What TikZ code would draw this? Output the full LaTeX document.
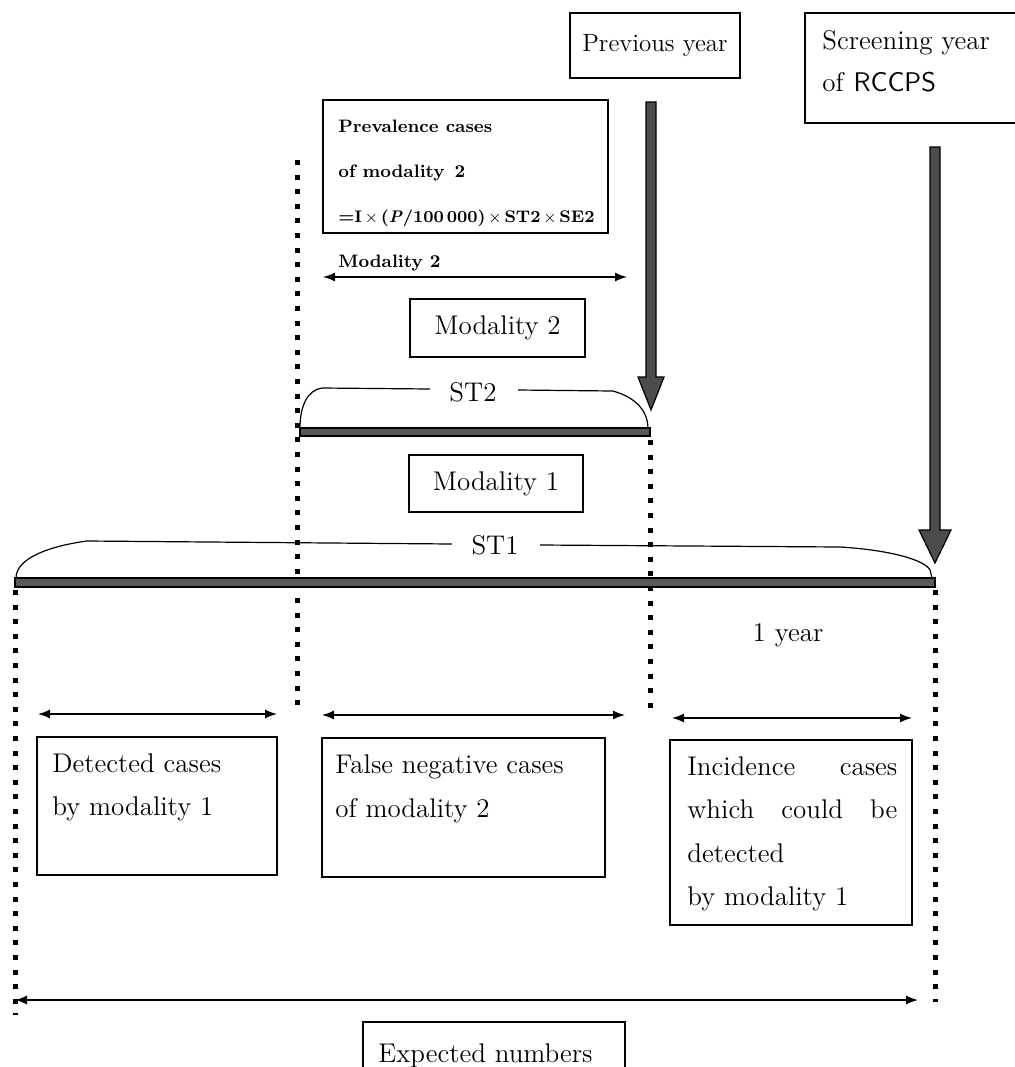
\documentclass[tikz,border=0pt]{standalone}
\usetikzlibrary{arrows.meta,calc}
\begin{document}
\begin{tikzpicture}[x=0.5pt,y=-0.5pt,
  box/.style={draw, line width=0.75pt, rectangle, inner sep=0pt},
  txt/.style={font=\fontsize{13.5}{16}\selectfont, inner sep=0pt},
  smalltxt/.style={font=\fontsize{9}{11}\selectfont\bfseries, inner sep=0pt},
  formtxt/.style={font=\fontsize{8.4}{10}\selectfont\bfseries, inner sep=0pt},
  dotline/.style={line width=2.5pt, dash pattern=on 2.5pt off 4.8pt},
  dblarrow/.style={{Latex[length=6pt,width=4.5pt]}-{Latex[length=6pt,width=4.5pt]}, line width=0.7pt},
  bar/.style={fill=black!65, draw=black, line width=0.7pt},
  bigarrow/.style={fill=black!70, draw=black, line width=0.6pt},
  bracket/.style={line width=0.6pt}]
\useasboundingbox (0,0) rectangle (1014,1067);

% top boxes
\node[box, minimum width=85pt, minimum height=32.5pt, font=\fontsize{12.5}{15}\selectfont] (prev) at (655,45.5) {Previous year};
\node[box, minimum width=107.5pt, minimum height=55pt] (scr) at (912.5,68) {};
\node[txt, anchor=base west] (scr1) at (822,49) {Screening year};
\node[txt, anchor=base west] (scr2) at (822,91) {of \textsf{RCCPS}};

% prevalence box
\node[box, minimum width=142.5pt, minimum height=66.5pt] (prevbox) at (465.5,166.5) {};
\node[smalltxt, anchor=base west] (pv1) at (338,132) {Prevalence cases};
\node[smalltxt, anchor=base west] (pv2) at (338,177) {of modality\, 2};
\node[formtxt, anchor=base west] (pv3) at (338,222) {=I\,$\times$\,(\textit{P}/100\,000)\,$\times$\,ST2\,$\times$\,SE2};

% modality 2 arrow
\node[smalltxt, anchor=base west] (m2lab) at (338,267) {Modality 2};
\coordinate (m2l) at (323,277);
\coordinate (m2r) at (627,277);
\draw[dblarrow] (m2l) -- (m2r);

\node[box, minimum width=87.5pt, minimum height=29pt, txt] (mod2) at (497.5,328) {Modality 2};
\node[box, minimum width=87pt, minimum height=28.5pt, txt] (mod1) at (496,483.5) {Modality 1};

% dotted verticals
\coordinate (d1t) at (297,160); \coordinate (d1b) at (297,714);
\coordinate (d2t) at (650,440); \coordinate (d2b) at (650,714);
\coordinate (d3t) at (15,590);  \coordinate (d3b) at (15,1015);
\coordinate (d4t) at (935,590); \coordinate (d4b) at (935,1002);
\draw[dotline] (d1t) -- (d1b);
\draw[dotline] (d2t) -- (d2b);
\draw[dotline] (d3t) -- (d3b);
\draw[dotline] (d4t) -- (d4b);

% bars
\draw[bar] (300,428) rectangle (650,436);
\draw[bar] (15,578) rectangle (935,587);

% ST2 bracket
\node[txt] (st2) at (473,392) {ST2};
\draw[bracket] (300,428) .. controls (300,405) and (308,390) .. (322,388) -- (430,389);
\draw[bracket] (518,390) -- (613,391) .. controls (638,398) and (648,413) .. (648,428);

% ST1 bracket
\node[txt] (st1) at (495,545) {ST1};
\draw[bracket] (16,578) .. controls (16,558) and (50,546) .. (87,541) -- (452,544);
\draw[bracket] (540,545) -- (840,547) .. controls (890,550) and (925,560) .. (930,570) -- (932,578);

% big arrows
\coordinate (a1s) at (651,102); \coordinate (a1t) at (651,410);
\draw[bigarrow] ($(a1s)+(-5,0)$) -- ($(a1s)+(5,0)$) -- ($(a1t)+(5,-33)$) -- ($(a1t)+(13,-33)$) -- (a1t) -- ($(a1t)+(-13,-33)$) -- ($(a1t)+(-5,-33)$) -- cycle;
\coordinate (a2s) at (935,147); \coordinate (a2t) at (935,563);
\draw[bigarrow] ($(a2s)+(-5,0)$) -- ($(a2s)+(5,0)$) -- ($(a2t)+(5,-33)$) -- ($(a2t)+(16,-33)$) -- (a2t) -- ($(a2t)+(-16,-33)$) -- ($(a2t)+(-5,-33)$) -- cycle;

% 1 year
\node[txt] (oneyear) at (788,635) {1 year};

% small horizontal arrows
\coordinate (h1l) at (38,714); \coordinate (h1r) at (277,714);
\coordinate (h2l) at (322,715); \coordinate (h2r) at (625,715);
\coordinate (h3l) at (672,718); \coordinate (h3r) at (912,718);
\draw[dblarrow] (h1l) -- (h1r);
\draw[dblarrow] (h2l) -- (h2r);
\draw[dblarrow] (h3l) -- (h3r);

% bottom boxes
\node[box, minimum width=120pt, minimum height=69pt] (det) at (157,806) {};
\node[txt, anchor=base west] (det1) at (52,772) {Detected cases};
\node[txt, anchor=base west] (det2) at (52,815) {by modality 1};

\node[box, minimum width=141.5pt, minimum height=69.5pt] (fn) at (463.5,807.5) {};
\node[txt, anchor=base west] (fn1) at (335,773) {False negative cases};
\node[txt, anchor=base west] (fn2) at (335,817) {of modality 2};

\node[box, minimum width=121pt, minimum height=92.5pt] (inc) at (791,832.5) {};
\node[txt, anchor=base west] (inc1) at (687,775) {\makebox[105pt][l]{Incidence\hfill cases}};
\node[txt, anchor=base west] (inc2) at (687,818) {\makebox[105pt][l]{which\hfill could\hfill be}};
\node[txt, anchor=base west] (inc3) at (687,862) {detected};
\node[txt, anchor=base west] (inc4) at (687,905) {by modality 1};

% long arrow
\coordinate (ll) at (15,1000); \coordinate (lr) at (918,1000);
\draw[dblarrow] (ll) -- (lr);

\node[box, minimum width=131pt, minimum height=24pt] (exp) at (494,1046) {};
\node[txt, anchor=base west] (exptxt) at (378,1062) {Expected numbers};
\end{tikzpicture}
\end{document}
